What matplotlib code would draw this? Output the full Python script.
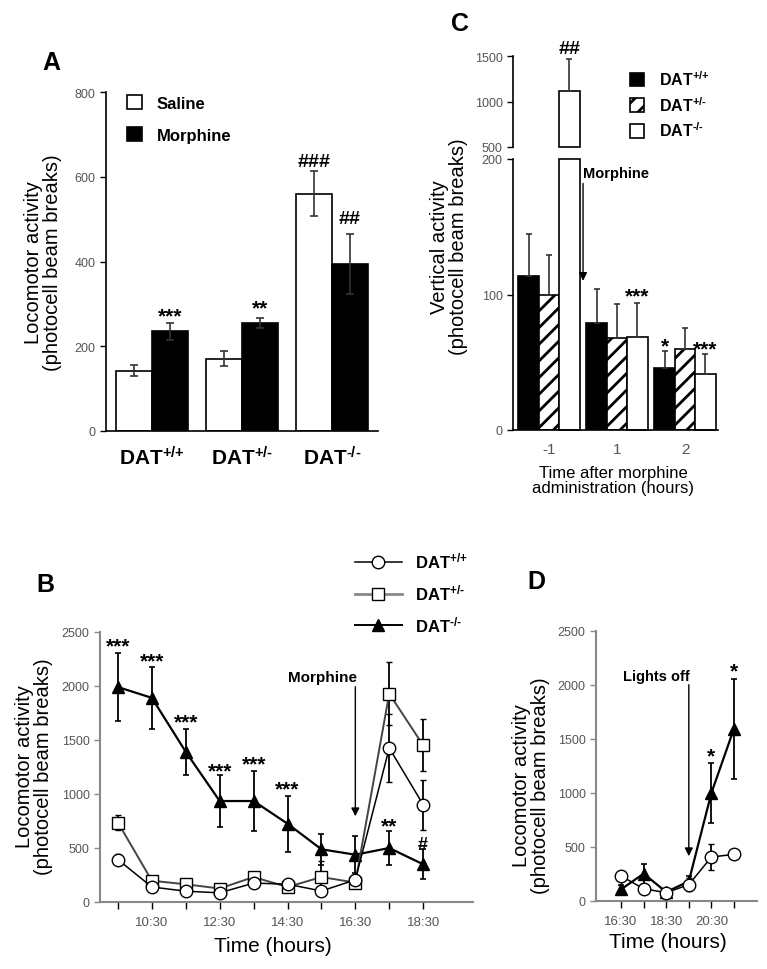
import matplotlib
matplotlib.use("Agg")
import matplotlib.pyplot as plt
import numpy as np
from matplotlib.patches import Patch
from matplotlib.lines import Line2D

plt.rcParams['font.family'] = ['Liberation Sans', 'DejaVu Sans']
plt.rcParams['mathtext.fontset'] = 'custom'
plt.rcParams['mathtext.rm'] = 'Liberation Sans'
plt.rcParams['mathtext.bf'] = 'Liberation Sans:bold'
plt.rcParams['mathtext.default'] = 'bf'
plt.rcParams['hatch.linewidth'] = 2.0

# ---------------- data ----------------
WT = r'DAT$^{{+}/{+}}$'
HET = r'DAT$^{{+}/{‐}}$'
KO = r'DAT$^{{‐}/{‐}}$'

# Panel A
genotypes_A = [WT, HET, KO]
saline_A = [142, 171, 560]
saline_A_err = [13, 18, 53]
morphine_A = [235, 255, 395]
morphine_A_err = [20, 12, 71]

# Panel C
time_C = ['-1', '1', '2']
wt_C = [114, 79, 46]
wt_C_err = [31, 25, 12]
het_C = [100, 68, 60]
het_C_err = [29, 25, 15]
ko_C = [1120, 69, 41]
ko_C_err = [350, 25, 15]

# Panel B
time_B = [9.5, 10.5, 11.5, 12.5, 13.5, 14.5, 15.5, 16.5, 17.5, 18.5]
time_B_labels = ['10:30', '12:30', '14:30', '16:30', '18:30']
wt_B = [392, 139, 100, 85, 175, 165, 102, 205, 1426, 901]
wt_B_err = [50, 25, 20, 20, 30, 25, 20, 30, 315, 230]
het_B = [735, 197, 164, 125, 231, 139, 231, 180, 1929, 1451]
het_B_err = [70, 30, 25, 25, 30, 25, 150, 30, 290, 240]
ko_B = [1990, 1890, 1390, 935, 935, 725, 488, 438, 500, 349]
ko_B_err = [318, 290, 210, 245, 280, 260, 145, 170, 155, 140]

# Panel D
time_D = [16.5, 17.5, 18.5, 19.5, 20.5, 21.5]
time_D_labels = ['16:30', '18:30', '20:30']
wt_D = [231, 114, 77, 151, 407, 432]
wt_D_err = [50, 40, 20, 60, 118, 30]
ko_D = [108, 253, 83, 182, 1000, 1596]
ko_D_err = [40, 93, 30, 50, 275, 463]

# ---------------- figure ----------------
W, H = 767, 970
fig = plt.figure(figsize=(W / 100, H / 100), dpi=100)


def axes_px(l, t, r, b):
    return fig.add_axes([l / W, 1 - b / H, (r - l) / W, (b - t) / H])


TICKC = '#555555'
STARFS = 15


def mark(ax, x, y, s, size=STARFS):
    off = -(0.6 if '*' in s else 0.36) * size
    ax.annotate(s, xy=(x, y), xytext=(0, off), textcoords='offset points',
                ha='center', va='baseline', fontsize=size, fontweight='bold',
                annotation_clip=False)


def style_axes(ax, color='black', lw=1.2):
    for s in ['top', 'right']:
        ax.spines[s].set_visible(False)
    for s in ['left', 'bottom']:
        ax.spines[s].set_color(color)
        ax.spines[s].set_linewidth(lw)
    ax.tick_params(colors=color, labelcolor=TICKC, labelsize=9, length=4, width=1)


# ---------------- Panel A ----------------
axA = axes_px(106, 93, 378, 432)
style_axes(axA)
xa = np.arange(len(genotypes_A))
bw = 0.4
axA.bar(xa - bw / 2, saline_A, bw, color='white', edgecolor='black', lw=1.2,
        yerr=saline_A_err, capsize=3, error_kw=dict(ecolor='#333', elinewidth=1.2, capthick=1.2))
axA.bar(xa + bw / 2, morphine_A, bw, color='black', edgecolor='black', lw=1.2,
        yerr=morphine_A_err, capsize=3, error_kw=dict(ecolor='#333', elinewidth=1.2, capthick=1.2))
axA.set_xlim(-0.51, 2.51)
axA.set_ylim(0, 800)
axA.set_yticks([0, 200, 400, 600, 800])
axA.set_xticks(xa)
axA.set_xticklabels(genotypes_A, fontsize=15, fontweight='bold', color='black')
axA.tick_params(axis='x', length=0, pad=10, labelcolor='black', labelsize=15)
axA.set_ylabel('Locomotor activity\n(photocell beam breaks)', fontsize=14.5, linespacing=1.0)
axA.yaxis.set_label_coords(-0.16, 0.5)
axA.legend(handles=[Patch(facecolor='white', edgecolor='black', lw=1.2, label='Saline'),
                    Patch(facecolor='black', edgecolor='black', lw=1.2, label='Morphine')],
           loc='upper left', bbox_to_anchor=(127 / W, 1 - 96 / H), bbox_transform=fig.transFigure,
           frameon=False, borderpad=0, borderaxespad=0, handlelength=0.9, handleheight=0.9,
           handletextpad=0.9, labelspacing=1.0, prop=dict(size=12, weight='bold'))
mark(axA, 0.2, 288, '***')
mark(axA, 1.2, 307, '**')
mark(axA, 1.8, 642, '###', 14)
mark(axA, 2.2, 507, '##', 14)
fig.text(51 / W, 1 - 63 / H, 'A', fontsize=18, fontweight='bold', ha='center', va='center')

# ---------------- Panel C ----------------
axCu = axes_px(513, 57, 718, 148)
axCl = axes_px(513, 160, 718, 431)
xc = np.arange(len(time_C))
cw = 0.3
for ax in (axCu, axCl):
    style_axes(ax)
    ax.set_xlim(-0.53, 2.485)
axCu.spines['bottom'].set_visible(False)
axCu.tick_params(axis='x', bottom=False, labelbottom=False)
axCu.set_ylim(500, 1500)
axCu.set_yticks([500, 1000, 1500])
axCl.set_ylim(0, 200)
axCl.set_yticks([0, 100, 200])
ekw = dict(ecolor='#333', elinewidth=1.2, capthick=1.2)
ko_arr = np.array(ko_C, dtype=float)
zeros = np.zeros(3)
# lower axis
axCl.bar(xc - cw, wt_C, cw, color='black', edgecolor='black', lw=1.2,
         yerr=[zeros, wt_C_err], capsize=2.5, error_kw=ekw)
axCl.bar(xc, het_C, cw, color='white', edgecolor='black', lw=1.2, hatch='//',
         yerr=[zeros, het_C_err], capsize=2.5, error_kw=ekw)
low_ko = np.minimum(ko_arr, 200)
low_err = np.where(ko_arr > 200, 0, ko_C_err)
bars = axCl.bar(xc + cw, low_ko, cw, color='white', edgecolor='black', lw=1.2,
                yerr=[zeros, low_err], capsize=2.5, error_kw=ekw)
for b in bars:
    b.set_clip_on(False)
# upper axis: only values above break
big = ko_arr > 500
bu = axCu.bar((xc + cw)[big], ko_arr[big] - 500, cw, bottom=500, color='white', edgecolor='black', lw=1.2,
              yerr=[np.zeros(big.sum()), np.array(ko_C_err)[big]], capsize=2.5, error_kw=ekw)
for b in bu:
    b.set_clip_on(False)
axCl.set_xticks(xc)
axCl.set_xticklabels(time_C, fontsize=11)
axCl.tick_params(axis='x', length=0, pad=9)
axCl.set_xlabel('Time after morphine\nadministration (hours)', fontsize=12, linespacing=1.0)
axCl.xaxis.set_label_coords(0.49, -0.13)
axCl.xaxis.label.set_va('top')
fig.text(468 / W, 1 - 247 / H, 'Vertical activity\n(photocell beam breaks)', rotation=90,
         ha='right', va='center', fontsize=14.5, multialignment='center', linespacing=1.0)
axCl.annotate('', xy=(0.5, 108), xytext=(0.5, 184),
              arrowprops=dict(arrowstyle='-|>', color='black', lw=1.0, mutation_scale=12),
              annotation_clip=False)
axCl.text(0.5, 190, 'Morphine', fontsize=10.5, fontweight='bold', ha='left', va='center')
mark(axCl, 1 + cw, 104, '***')
mark(axCl, 2 - cw, 67, '*')
mark(axCl, 2 + cw, 65, '***')
mark(axCu, cw, 1610, '##', 14)
fig.legend(handles=[Patch(facecolor='black', edgecolor='black', lw=1.2, label=WT),
                    Patch(facecolor='white', edgecolor='black', lw=1.2, hatch='//', label=HET),
                    Patch(facecolor='white', edgecolor='black', lw=1.2, label=KO)],
           loc='upper left', bbox_to_anchor=(630 / W, 1 - 70 / H), bbox_transform=fig.transFigure,
           frameon=False, borderpad=0, borderaxespad=0, handlelength=0.9, handleheight=0.9,
           handletextpad=0.9, labelspacing=0.45, prop=dict(size=11.5, weight='bold'))
fig.text(460 / W, 1 - 24 / H, 'C', fontsize=18, fontweight='bold', ha='center', va='center')

# ---------------- Panel B ----------------
GRAY = '#888888'
axB = axes_px(100, 633, 473, 903)
style_axes(axB, color=GRAY, lw=1.5)
ebk = dict(elinewidth=1.3, capthick=1.2, capsize=2.5)
axB.errorbar(time_B, ko_B, yerr=ko_B_err, color='black', lw=1.6, marker='^', ms=9,
             mfc='black', mec='black', ecolor='black', zorder=3, **ebk)
axB.errorbar(time_B, het_B, yerr=het_B_err, color='#444', lw=1.4, marker='s', ms=8,
             mfc='white', mec='black', mew=1.0, ecolor='black', zorder=4, **ebk)
axB.errorbar(time_B, wt_B, yerr=wt_B_err, color='black', lw=1.1, marker='o', ms=9,
             mfc='white', mec='black', mew=1.0, ecolor='black', zorder=5, **ebk)
axB.set_xlim(8.97, 19.97)
axB.set_ylim(0, 2500)
axB.set_yticks([0, 500, 1000, 1500, 2000, 2500])
axB.set_xticks(time_B)
axB.set_xticklabels(['' if i % 2 == 0 else time_B_labels[i // 2] for i in range(len(time_B))])
axB.tick_params(axis='x', labelsize=9.5, length=5, pad=5, colors='black', labelcolor=TICKC)
axB.set_ylabel('Locomotor activity\n(photocell beam breaks)', fontsize=14.5, linespacing=1.0)
axB.yaxis.set_label_coords(-0.126, 0.504)
axB.set_xlabel('Time (hours)', fontsize=15)
axB.xaxis.set_label_coords(0.464, -0.125)
axB.xaxis.label.set_va('top')
axB.annotate('', xy=(16.5, 768), xytext=(16.5, 2018),
             arrowprops=dict(arrowstyle='-|>', color='black', lw=1.0, mutation_scale=12),
             annotation_clip=False)
axB.text(16.55, 2083, 'Morphine', fontsize=11, fontweight='bold', ha='right', va='center')
for x, y, s in [(9.5, 2435, '***'), (10.5, 2296, '***'), (11.5, 1731, '***'),
                (12.5, 1278, '***'), (13.5, 1343, '***'), (14.5, 1111, '***'),
                (17.5, 768, '**')]:
    mark(axB, x, y, s)
mark(axB, 18.5, 555, '#', 13)
fig.legend(handles=[Line2D([], [], color='black', lw=1.1, marker='o', ms=9, mfc='white', mec='black', label=WT),
                    Line2D([], [], color=GRAY, lw=2.0, marker='s', ms=8, mfc='white', mec='black', label=HET),
                    Line2D([], [], color='black', lw=1.4, marker='^', ms=9, mfc='black', mec='black', label=KO)],
           loc='upper left', bbox_to_anchor=(355 / W, 1 - 552 / H), bbox_transform=fig.transFigure,
           frameon=False, borderpad=0, borderaxespad=0, handlelength=2.8,
           handletextpad=0.8, labelspacing=0.7, prop=dict(size=12, weight='bold'))
fig.text(45 / W, 1 - 585 / H, 'B', fontsize=18, fontweight='bold', ha='center', va='center')

# ---------------- Panel D ----------------
axD = axes_px(596, 632, 757, 902)
style_axes(axD, color=GRAY, lw=1.5)
axD.errorbar(time_D, ko_D, yerr=ko_D_err, color='black', lw=1.6, marker='^', ms=9,
             mfc='black', mec='black', ecolor='black', zorder=3, **ebk)
axD.errorbar(time_D, wt_D, yerr=wt_D_err, color='black', lw=1.1, marker='o', ms=9,
             mfc='white', mec='black', mew=1.0, ecolor='black', zorder=4, **ebk)
axD.set_xlim(15.39, 22.52)
axD.set_ylim(0, 2500)
axD.set_yticks([0, 500, 1000, 1500, 2000, 2500])
axD.set_xticks(time_D)
axD.set_xticklabels(['' if i % 2 else time_D_labels[i // 2] for i in range(len(time_D))])
axD.tick_params(axis='x', labelsize=9.5, length=5, pad=5, colors='black', labelcolor=TICKC)
axD.set_ylabel('Locomotor activity\n(photocell beam breaks)', fontsize=14.5, linespacing=1.0)
axD.yaxis.set_label_coords(-0.286, 0.43)
axD.set_xlabel('Time (hours)', fontsize=15)
axD.xaxis.set_label_coords(0.447, -0.115)
axD.xaxis.label.set_va('top')
axD.annotate('', xy=(19.5, 389), xytext=(19.5, 2028),
             arrowprops=dict(arrowstyle='-|>', color='black', lw=1.0, mutation_scale=12),
             annotation_clip=False)
axD.text(19.55, 2083, 'Lights off', fontsize=10.5, fontweight='bold', ha='right', va='center')
mark(axD, 20.5, 1407, '*')
mark(axD, 21.5, 2194, '*')
fig.text(536 / W, 1 - 582 / H, 'D', fontsize=18, fontweight='bold', ha='center', va='center')

fig.savefig('out.png', dpi=100)
